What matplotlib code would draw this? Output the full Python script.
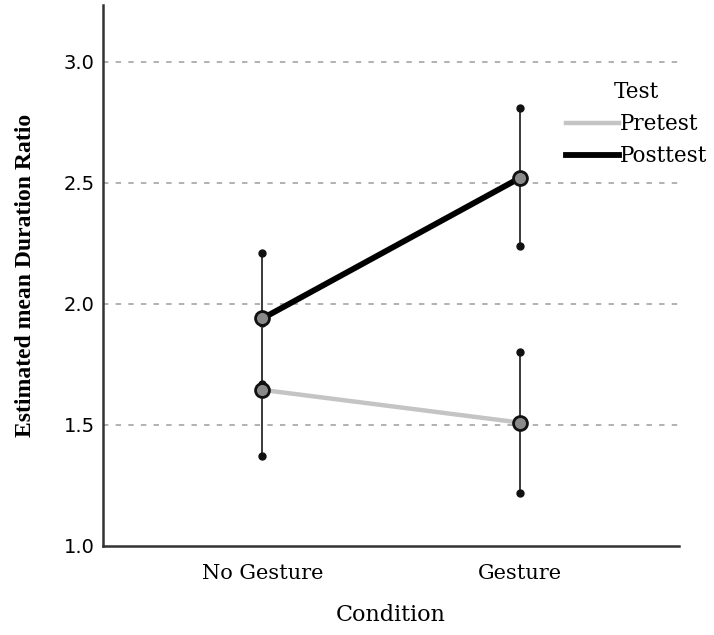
import numpy as np
import matplotlib.pyplot as plt
from matplotlib.lines import Line2D

conditions = ['No Gesture', 'Gesture']
pretest_mean = [1.645, 1.51]
pretest_low = [1.37, 1.22]
pretest_high = [1.92, 1.80]
posttest_mean = [1.94, 2.52]
posttest_low = [1.67, 2.24]
posttest_high = [2.21, 2.81]
yticks = [1.0, 1.5, 2.0, 2.5, 3.0]

fig = plt.figure(figsize=(7.14, 6.35), dpi=100)
ax = fig.add_axes([0.1443, 0.1402, 0.8067, 0.8518])
x = np.arange(len(conditions))

for y in yticks[1:]:
    ax.axhline(y, color='#ababab', lw=1.3, ls=(0, (3, 4)), zorder=0)

# error bars with dot caps
for mean, lo, hi in [(pretest_mean, pretest_low, pretest_high),
                     (posttest_mean, posttest_low, posttest_high)]:
    for i in x:
        ax.plot([i, i], [lo[i], hi[i]], color='#3a3a3a', lw=1.4, zorder=2)
        ax.plot([i, i], [lo[i], hi[i]], 'o', color='#111111', ms=5, zorder=2)

ax.plot(x, pretest_mean, color='#c4c4c4', lw=3.2, solid_capstyle='round', zorder=3)
ax.plot(x, posttest_mean, color='black', lw=4.2, solid_capstyle='round', zorder=3)
ax.plot(x, pretest_mean, 'o', ms=10, mfc='#8a8a8a', mec='#111111', mew=2, zorder=4)
ax.plot(x, posttest_mean, 'o', ms=10, mfc='#8a8a8a', mec='#111111', mew=2, zorder=4)

ax.set_xlim(-0.62, 1.62)
ax.set_ylim(1.0, 3.235)
ax.set_yticks(yticks)
ax.set_yticklabels(['%.1f' % v for v in yticks], family='DejaVu Sans', fontsize=14)
ax.set_xticks(x)
ax.set_xticklabels(conditions, family='DejaVu Serif', fontsize=15)
ax.tick_params(length=0)
ax.tick_params(axis='y', pad=6)
ax.tick_params(axis='x', pad=13)
for s in ['top', 'right']:
    ax.spines[s].set_visible(False)
for s in ['left', 'bottom']:
    ax.spines[s].set_color('#333333')
    ax.spines[s].set_linewidth(1.8)

ax.set_xlabel('Condition', family='DejaVu Serif', fontsize=16, labelpad=15)
ax.set_ylabel('Estimated mean Duration Ratio', family='Liberation Serif',
              fontweight='bold', fontsize=17, labelpad=20)

handles = [Line2D([], [], color='#c4c4c4', lw=3.2),
           Line2D([], [], color='black', lw=4.2)]
leg = ax.legend(handles, ['Pretest', 'Posttest'], title='Test', frameon=False,
                loc='upper left', bbox_to_anchor=(0.785, 0.88), borderpad=0,
                handlelength=2.45, handletextpad=0.05, labelspacing=0.48,
                prop={'family': 'DejaVu Serif', 'size': 15.5})
leg.get_title().set_fontfamily('DejaVu Serif')
leg.get_title().set_fontsize(15.5)

fig.savefig('out.png', dpi=100)
